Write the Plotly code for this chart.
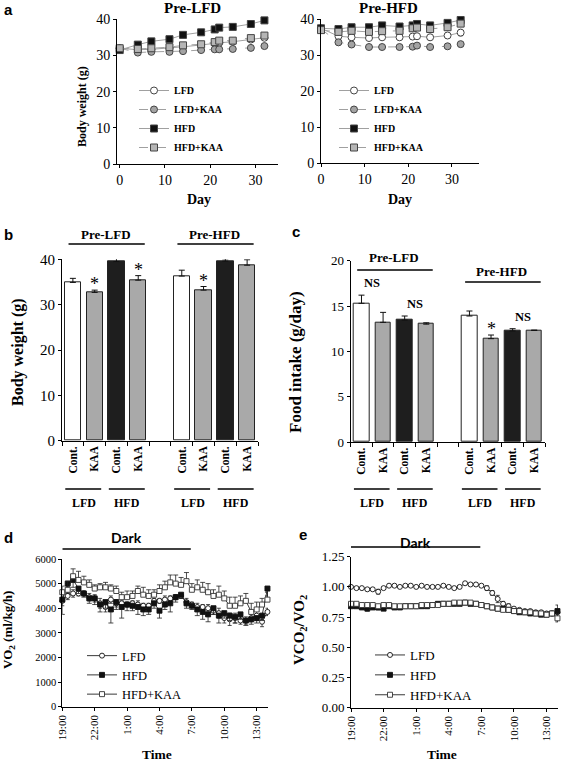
import plotly.graph_objects as go

W, H = 563, 761
SERIF = "Liberation Serif"
SANS = "Liberation Sans"

# ---------------- Data: panel a (body weight time course) ----------------
days = [0, 4, 7, 11, 14, 18, 21, 22, 25, 29, 32]
series_names = ["LFD", "LFD+KAA", "HFD", "HFD+KAA"]

preLFD_LFD = [32.0, 31.6, 31.7, 32.0, 32.4, 32.9, 33.4, 33.5, 33.8, 34.4, 34.9]
preLFD_LFDKAA = [32.0, 30.8, 31.0, 31.0, 31.2, 31.5, 31.7, 31.7, 31.8, 32.1, 32.6]
preLFD_HFD = [31.5, 33.0, 33.9, 34.5, 35.7, 36.4, 37.2, 37.7, 37.9, 38.7, 39.7]
preLFD_HFDKAA = [32.0, 31.8, 32.0, 32.3, 32.8, 33.1, 33.7, 34.1, 34.1, 34.8, 35.5]

preHFD_LFD = [37.5, 35.3, 35.0, 34.8, 35.0, 35.0, 35.2, 35.3, 35.0, 35.5, 36.3]
preHFD_LFDKAA = [37.3, 33.6, 33.0, 32.3, 32.3, 32.3, 32.4, 32.7, 32.3, 32.5, 33.1]
preHFD_HFD = [37.5, 37.3, 37.8, 37.8, 38.3, 38.0, 38.3, 38.7, 38.3, 39.0, 39.8]
preHFD_HFDKAA = [37.0, 36.5, 36.8, 36.5, 36.7, 36.8, 37.5, 37.7, 37.3, 37.8, 38.8]
preHFD_LFD_err = [0.6, 0.8, 0.8, 0.7, 0.7, 0.7, 0.8, 0.8, 0.8, 0.8, 0.9]
preHFD_LFDKAA_err = [0.6, 0.7, 0.6, 0.4, 0.4, 0.4, 0.4, 0.5, 0.4, 0.4, 0.5]
preHFD_HFD_err = [0.6, 0.6, 0.6, 0.6, 0.6, 0.6, 0.7, 0.7, 0.6, 0.7, 0.7]
preHFD_HFDKAA_err = [0.6, 0.7, 0.7, 0.7, 0.7, 0.7, 0.8, 0.8, 0.7, 0.8, 0.8]

# ---------------- Data: panels b, c (bars) ----------------
pre_groups = ["Pre-LFD", "Pre-HFD"]
diets = ["LFD", "HFD"]
treatments = ["Cont.", "KAA"]
bw_values = [34.9, 32.7, 39.5, 35.4, 36.3, 33.2, 39.6, 38.7]
bw_errors = [0.9, 0.5, 0.7, 1.0, 1.3, 0.8, 0.5, 1.2]
bw_sig = ["", "*", "", "*", "", "*", "", ""]
fi_values = [15.3, 13.2, 13.45, 13.0, 13.9, 11.4, 12.25, 12.3]
fi_errors = [0.9, 1.1, 0.45, 0.15, 0.55, 0.4, 0.25, 0.05]
fi_star = ["", "", "", "", "", "*", "", ""]
fi_pair_ns = ["NS", "NS", "", "NS"]

# ---------------- Data: panels d, e (indirect calorimetry) ----------------
hours = [0, 0.5, 1, 1.5, 2, 2.5, 3, 3.5, 4, 4.5, 5, 5.5, 6, 6.5, 7, 7.5, 8, 8.5, 9, 9.5,
         10, 10.5, 11, 11.5, 12, 12.5, 13, 13.5, 14, 14.5, 15, 15.5, 16, 16.5, 17, 17.5,
         18, 18.5, 19]
time_tickvals = [0, 3, 6, 9, 12, 15, 18]
time_ticktext = ["19:00", "22:00", "1:00", "4:00", "7:00", "10:00", "13:00"]
dark_period = [0, 11.9]

vo2_LFD = [4300, 4500, 4600, 4600, 4600, 4450, 4400, 4200, 4050, 4350, 4200, 4200, 4150,
           4200, 4150, 4100, 4100, 4300, 4300, 4350, 4400, 4450, 4500, 4250, 4150, 4050,
           4050, 4000, 3900, 3800, 3600, 3550, 3600, 3500, 3500, 3600, 3700, 3450, 3850]
vo2_HFD = [4350, 5000, 5150, 4800, 4600, 4400, 4400, 4150, 4250, 3950, 4250, 4050, 4150,
           4100, 4050, 3950, 3950, 4200, 3900, 4150, 4200, 4450, 4550, 4200, 4100, 3950,
           3850, 3750, 4000, 3700, 3800, 3700, 3650, 3750, 3500, 3550, 3600, 3700, 4800]
vo2_HFDKAA = [4650, 4750, 5300, 5150, 5050, 4950, 4800, 4850, 4850, 4800, 4700, 4450, 4450,
              4500, 4700, 4550, 4500, 4550, 4700, 4850, 5050, 5000, 4950, 5100, 4750, 4850,
              4750, 4650, 4500, 4550, 4400, 4100, 4100, 4200, 4300, 3850, 3950, 4150, 4350]
vo2_LFD_err = [200, 150, 150, 100, 100, 150, 150, 200, 200, 150, 150, 100, 100, 100, 150,
               100, 100, 100, 100, 150, 100, 100, 100, 150, 100, 150, 100, 150, 150, 200,
               200, 250, 200, 150, 150, 150, 200, 200, 150]
vo2_HFD_err = [600, 400, 300, 200, 150, 200, 250, 300, 250, 550, 300, 450, 250, 200, 300,
               250, 200, 200, 300, 200, 350, 200, 150, 200, 150, 250, 300, 300, 250, 300,
               200, 200, 250, 200, 200, 200, 200, 200, 300]
vo2_HFDKAA_err = [250, 350, 300, 350, 250, 200, 150, 150, 200, 150, 200, 200, 250, 200, 200,
                  300, 250, 200, 250, 250, 300, 350, 300, 350, 250, 300, 300, 350, 250, 350,
                  300, 350, 350, 300, 300, 350, 300, 250, 300]

rer_LFD = [1.00, 0.99, 0.99, 0.98, 0.98, 0.96, 0.99, 1.01, 1.01, 1.00, 1.01, 1.01, 1.00,
           1.01, 1.00, 1.00, 1.00, 1.01, 1.00, 0.99, 1.00, 1.03, 1.02, 1.02, 1.01, 0.99,
           0.95, 0.90, 0.86, 0.84, 0.82, 0.81, 0.80, 0.80, 0.79, 0.79, 0.78, 0.78, 0.79]
rer_HFD = [0.84, 0.84, 0.83, 0.82, 0.83, 0.83, 0.82, 0.84, 0.83, 0.83, 0.84, 0.84, 0.84,
           0.84, 0.84, 0.85, 0.86, 0.86, 0.86, 0.86, 0.86, 0.87, 0.86, 0.86, 0.85, 0.84,
           0.83, 0.82, 0.82, 0.81, 0.80, 0.79, 0.79, 0.78, 0.78, 0.77, 0.77, 0.78, 0.80]
rer_HFDKAA = [0.86, 0.86, 0.85, 0.85, 0.85, 0.84, 0.85, 0.85, 0.84, 0.84, 0.84, 0.84, 0.84,
              0.85, 0.85, 0.85, 0.85, 0.86, 0.86, 0.87, 0.87, 0.87, 0.87, 0.86, 0.85, 0.84,
              0.83, 0.82, 0.81, 0.81, 0.80, 0.80, 0.79, 0.79, 0.78, 0.78, 0.77, 0.78, 0.74]
rer_LFD_err = [0.01, 0.01, 0.01, 0.01, 0.01, 0.02, 0.01, 0.01, 0.01, 0.01, 0.01, 0.01, 0.01,
               0.01, 0.01, 0.01, 0.01, 0.01, 0.01, 0.01, 0.01, 0.01, 0.01, 0.01, 0.01, 0.02,
               0.02, 0.03, 0.02, 0.02, 0.01, 0.01, 0.01, 0.01, 0.01, 0.01, 0.01, 0.01, 0.01]
rer_HFD_err = [0.01, 0.01, 0.01, 0.02, 0.01, 0.02, 0.01, 0.01, 0.01, 0.01, 0.01, 0.01, 0.01,
               0.01, 0.01, 0.01, 0.01, 0.01, 0.01, 0.01, 0.01, 0.01, 0.01, 0.01, 0.01, 0.01,
               0.01, 0.01, 0.01, 0.01, 0.01, 0.01, 0.01, 0.01, 0.01, 0.01, 0.01, 0.01, 0.05]
rer_HFDKAA_err = [0.01, 0.01, 0.01, 0.01, 0.01, 0.01, 0.01, 0.01, 0.01, 0.01, 0.01, 0.01, 0.01,
                  0.01, 0.01, 0.01, 0.01, 0.01, 0.01, 0.01, 0.01, 0.01, 0.01, 0.01, 0.01, 0.01,
                  0.01, 0.01, 0.01, 0.01, 0.01, 0.01, 0.01, 0.01, 0.01, 0.01, 0.01, 0.01, 0.03]


# ---------------- helpers (pixel -> paper) ----------------
def xd(a, b):
    return [a / W, b / W]


def yd(top, bottom):
    return [1 - bottom / H, 1 - top / H]


def px(x):
    return x / W


def py(y):
    return 1 - y / H


fig = go.Figure()

# ---------------- panel a traces ----------------
a_styles = {
    "LFD": dict(symbol="circle", color="white", dash="solid"),
    "LFD+KAA": dict(symbol="circle", color="#a3a3a3", dash="dash"),
    "HFD": dict(symbol="square", color="#111111", dash="solid"),
    "HFD+KAA": dict(symbol="square", color="#b5b5b5", dash="dash"),
}
left_data = [preLFD_LFD, preLFD_LFDKAA, preLFD_HFD, preLFD_HFDKAA]
right_data = [preHFD_LFD, preHFD_LFDKAA, preHFD_HFD, preHFD_HFDKAA]
right_err = [preHFD_LFD_err, preHFD_LFDKAA_err, preHFD_HFD_err, preHFD_HFDKAA_err]

for name, vals in zip(series_names, left_data):
    st = a_styles[name]
    fig.add_trace(go.Scatter(
        x=days, y=vals, name=name, mode="lines+markers", xaxis="x", yaxis="y",
        legend="legend", cliponaxis=False,
        line=dict(color="#a0a0a0", width=1, dash=st["dash"]),
        marker=dict(symbol=st["symbol"], size=7, color=st["color"],
                    line=dict(color="#444444", width=1))))

for name, vals, err in zip(series_names, right_data, right_err):
    st = a_styles[name]
    fig.add_trace(go.Scatter(
        x=days, y=vals, name=name, mode="lines+markers", xaxis="x2", yaxis="y2",
        legend="legend2", cliponaxis=False,
        error_y=dict(type="data", array=err, color="#333333", thickness=0.8, width=2),
        line=dict(color="#a0a0a0", width=1, dash=st["dash"]),
        marker=dict(symbol=st["symbol"], size=7, color=st["color"],
                    line=dict(color="#444444", width=1))))

# ---------------- panels b, c bars ----------------
bar_pos = []
bar_ticktext = []
for gi, g in enumerate(pre_groups):
    for di, d in enumerate(diets):
        for ti, t in enumerate(treatments):
            bar_pos.append(gi * 5 + di * 2 + ti)
            bar_ticktext.append(t)
bar_colors = ["white", "#a9a9a9", "#1e1e1e", "#a9a9a9"] * 2
zeros8 = [0] * len(bw_values)

fig.add_trace(go.Bar(
    x=bar_pos, y=bw_values, xaxis="x3", yaxis="y3", showlegend=False, width=0.75,
    marker=dict(color=bar_colors, line=dict(color="#222222", width=1)),
    error_y=dict(type="data", symmetric=False, array=bw_errors, arrayminus=zeros8,
                 color="#111111", thickness=1, width=3)))
fig.add_trace(go.Bar(
    x=bar_pos, y=fi_values, xaxis="x4", yaxis="y4", showlegend=False, width=0.72,
    marker=dict(color=bar_colors, line=dict(color="#222222", width=1)),
    error_y=dict(type="data", symmetric=False, array=fi_errors, arrayminus=zeros8,
                 color="#111111", thickness=1, width=3)))

# ---------------- panels d, e lines ----------------
zeros39 = [0] * len(hours)
d_specs = [
    ("LFD", vo2_LFD, dict(type="data", array=vo2_LFD_err, color="#222", thickness=0.8, width=2),
     dict(symbol="circle", size=5, color="white", line=dict(color="#111", width=0.9))),
    ("HFD", vo2_HFD, dict(type="data", symmetric=False, array=zeros39, arrayminus=vo2_HFD_err,
                          color="#222", thickness=0.8, width=2.5),
     dict(symbol="square", size=5, color="#111", line=dict(color="#111", width=0.9))),
    ("HFD+KAA", vo2_HFDKAA, dict(type="data", symmetric=False, array=vo2_HFDKAA_err,
                                 arrayminus=zeros39, color="#222", thickness=0.8, width=2.5),
     dict(symbol="square", size=5, color="white", line=dict(color="#333", width=0.9))),
]
for name, vals, err, mk in d_specs:
    fig.add_trace(go.Scatter(
        x=hours, y=vals, name=name, mode="lines+markers", xaxis="x5", yaxis="y5",
        legend="legend3", cliponaxis=False, error_y=err,
        line=dict(color="#222222", width=0.9), marker=mk))

e_specs = [
    ("LFD", rer_LFD, rer_LFD_err,
     dict(symbol="circle", size=5, color="white", line=dict(color="#111", width=0.9))),
    ("HFD", rer_HFD, rer_HFD_err,
     dict(symbol="square", size=5, color="#111", line=dict(color="#111", width=0.9))),
    ("HFD+KAA", rer_HFDKAA, rer_HFDKAA_err,
     dict(symbol="square", size=5, color="white", line=dict(color="#333", width=0.9))),
]
for name, vals, err, mk in e_specs:
    fig.add_trace(go.Scatter(
        x=hours, y=vals, name=name, mode="lines+markers", xaxis="x6", yaxis="y6",
        legend="legend4", cliponaxis=False,
        error_y=dict(type="data", array=err, color="#222", thickness=0.8, width=2),
        line=dict(color="#222222", width=0.9), marker=mk))

# ---------------- axes ----------------
def ax(size, **kw):
    base = dict(showgrid=False, zeroline=False, showline=True, linecolor="black",
                linewidth=1, ticks="outside", ticklen=3, tickcolor="black", tickwidth=1,
                tickfont=dict(family=SERIF, size=size, color="black"), fixedrange=True,
                automargin=False)
    base.update(kw)
    return base


layout_axes = dict(
    xaxis=ax(14, domain=xd(117, 278), range=[-0.6, 35], tickvals=[0, 10, 20, 30], anchor="y"),
    yaxis=ax(14, domain=yd(19.3, 164), range=[0, 40], tickvals=[0, 10, 20, 30, 40], anchor="x"),
    xaxis2=ax(14, domain=xd(321, 479), range=[0, 36.2], tickvals=[0, 10, 20, 30], anchor="y2"),
    yaxis2=ax(14, domain=yd(19.3, 163.3), range=[0, 40], tickvals=[0, 10, 20, 30, 40], anchor="x2"),
    xaxis3=ax(11.5, domain=xd(62, 258), range=[-0.5, 8.5], tickvals=bar_pos, ticktext=bar_ticktext,
              tickangle=-90, ticks="", anchor="y3",
              tickfont=dict(family=SERIF, size=11.5, color="black", weight="bold"),
              minor=dict(tickmode="array", tickvals=[v - 0.5 for v in range(10)],
                         ticks="outside", ticklen=4, tickcolor="black", tickwidth=1)),
    yaxis3=ax(15, domain=yd(259.3, 440.7), range=[0, 40], tickvals=[0, 10, 20, 30, 40], anchor="x3"),
    xaxis4=ax(11.5, domain=xd(350.7, 545), range=[-0.5, 8.5], tickvals=bar_pos, ticktext=bar_ticktext,
              tickangle=-90, ticks="", anchor="y4",
              tickfont=dict(family=SERIF, size=11.5, color="black", weight="bold"),
              minor=dict(tickmode="array", tickvals=[v - 0.5 for v in range(10)],
                         ticks="outside", ticklen=4, tickcolor="black", tickwidth=1)),
    yaxis4=ax(13, domain=yd(260.7, 442), range=[0, 20], tickvals=[0, 5, 10, 15, 20], anchor="x4"),
    xaxis5=ax(11, domain=xd(62.3, 268), range=[0, 19.05], tickvals=time_tickvals,
              ticktext=time_ticktext, tickangle=-90, anchor="y5"),
    yaxis5=ax(10.5, domain=yd(559, 706.7), range=[0, 6000],
              tickvals=[0, 1000, 2000, 3000, 4000, 5000, 6000], anchor="x5"),
    xaxis6=ax(11, domain=xd(351, 558), range=[0, 19.05], tickvals=time_tickvals,
              ticktext=time_ticktext, tickangle=-90, anchor="y6"),
    yaxis6=ax(13, domain=yd(556.7, 707.7), range=[0, 1.25],
              tickvals=[0, 0.25, 0.5, 0.75, 1.0, 1.25], tickformat=".2f", anchor="x6"),
)

# ---------------- annotations ----------------
ann = []


def text(x, y, s, size, family=SERIF, bold=True, angle=0, xanchor="center", yanchor="middle",
         xref="paper", yref="paper", yshift=0):
    ann.append(dict(x=x, y=y, xref=xref, yref=yref, text=s, showarrow=False, textangle=angle,
                    xanchor=xanchor, yanchor=yanchor, yshift=yshift,
                    font=dict(family=family, size=size, color="black",
                              weight="bold" if bold else "normal")))


# panel letters
for letter, x, y in [("a", 2, 9), ("b", 2, 234), ("c", 290, 231), ("d", 2, 537), ("e", 297, 534)]:
    text(px(x), py(y), letter, 15, family=SANS, xanchor="left")

# panel a titles
text(px(192), py(8), "Pre-LFD", 15)
text(px(388), py(8), "Pre-HFD", 15)
text(px(199), py(199), "Day", 14)
text(px(400), py(199), "Day", 14)
text(px(82), py(107), "Body weight (g)", 12, angle=-90)

# panel b / c y titles
text(px(18), py(352), "Body weight (g)", 16, angle=-90)
text(px(295), py(362), "Food intake (g/day)", 17, angle=-90)

# significance stars & NS
for i, s in enumerate(bw_sig):
    if s:
        text(bar_pos[i], bw_values[i] + bw_errors[i], s, 18, bold=False, xref="x3", yref="y3",
             yanchor="bottom", yshift=-6)
for i, s in enumerate(fi_star):
    if s:
        text(bar_pos[i], fi_values[i] + fi_errors[i], s, 18, bold=False, xref="x4", yref="y4",
             yanchor="bottom", yshift=-6)
for p, s in enumerate(fi_pair_ns):
    if s:
        i0, i1 = 2 * p, 2 * p + 1
        top = max(fi_values[i0] + fi_errors[i0], fi_values[i1] + fi_errors[i1])
        text((bar_pos[i0] + bar_pos[i1]) / 2, top, s, 12.5, xref="x4", yref="y4",
             yanchor="bottom", yshift=3)

# group headers above b and c, and diet labels below
shapes = []
header_y = {"x3": [(234, 244), (234, 244)], "x4": [(257, 270), (271, 282)]}
for xr in ["x3", "x4"]:
    for gi, g in enumerate(pre_groups):
        g0 = bar_pos[gi * 4]
        g1 = bar_pos[gi * 4 + 3]
        ty, ly = header_y[xr][gi]
        text((g0 + g1) / 2, py(ty), g, 13, xref=xr)
        shapes.append(dict(type="line", xref=xr, yref="paper", x0=g0 - 0.2, x1=g1 + 0.3,
                           y0=py(ly), y1=py(ly), line=dict(color="black", width=1.5)))
        for di, d in enumerate(diets):
            p0 = bar_pos[gi * 4 + di * 2]
            p1 = bar_pos[gi * 4 + di * 2 + 1]
            text((p0 + p1) / 2, py(503), d, 12, xref=xr)
            shapes.append(dict(type="line", xref=xr, yref="paper", x0=p0 - 0.35, x1=p1 + 0.3,
                               y0=py(489), y1=py(489), line=dict(color="black", width=1.5)))

# panels d / e
for xr, dx, dy, ly in [("x5", 121, 537, 549), ("x6", 410, 542, 547)]:
    text((dark_period[0] + dark_period[1]) / 2, py(dy), "Dark", 14, family="Lato", xref=xr)
    shapes.append(dict(type="line", xref=xr, yref="paper", x0=dark_period[0], x1=dark_period[1],
                       y0=py(ly), y1=py(ly), line=dict(color="black", width=1.5)))
text(px(157), py(754), "Time", 13.5)
text(px(442), py(754), "Time", 13.5)
text(px(8), py(630), "VO<sub>2</sub> (ml/kg/h)", 13, angle=-90)
text(px(300), py(630), "VCO<sub>2</sub>/VO<sub>2</sub>", 15, angle=-90)

# ---------------- legends ----------------
def leg(x, y, size, bold, yanchor="top"):
    return dict(x=px(x), y=py(y), xanchor="left", yanchor=yanchor, bgcolor="rgba(0,0,0,0)",
                borderwidth=0, itemwidth=30, tracegroupgap=0,
                font=dict(family=SERIF, size=size, color="black",
                          weight="bold" if bold else "normal"))


fig.update_layout(
    width=W, height=H, margin=dict(l=0, r=0, t=0, b=0, autoexpand=False),
    paper_bgcolor="white", plot_bgcolor="white",
    showlegend=True, bargap=0,
    legend=leg(134, 162, 10, True, yanchor="bottom"),
    legend2=leg(334, 162, 10, True, yanchor="bottom"),
    legend3=leg(82, 641, 12.5, False),
    legend4=leg(370, 640, 13, False),
    annotations=ann, shapes=shapes,
    **layout_axes,
)

fig.write_html(
    "out.html",
    config={"displayModeBar": False, "staticPlot": False},
    post_script="document.body.style.margin='0px';document.body.style.padding='0px';"
                "document.body.style.overflow='hidden';",
)
